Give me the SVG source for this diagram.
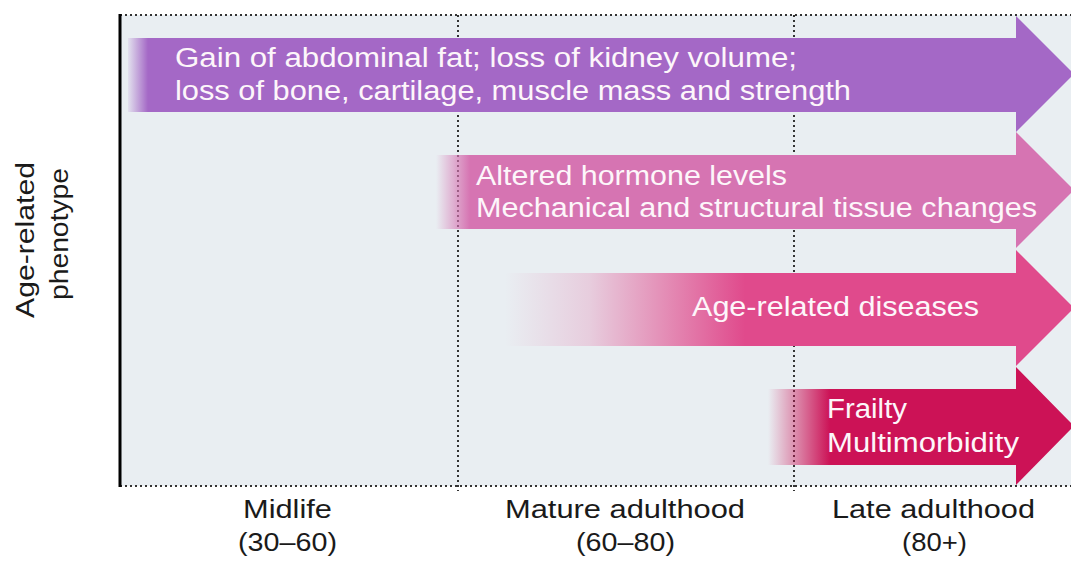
<svg xmlns="http://www.w3.org/2000/svg" width="1071" height="561" viewBox="0 0 1071 561">
<defs>
<style>
.lbl{font-family:"Liberation Sans",Arial,sans-serif;font-size:27px;fill:#fdf6fa}
.ax{font-family:"Liberation Sans",Arial,sans-serif;font-size:25px;fill:#1a1a1a;text-anchor:middle}
.dot{stroke:#333;stroke-width:2;stroke-dasharray:2 3;fill:none}
</style>
<linearGradient id="g1" gradientUnits="userSpaceOnUse" x1="128" y1="0" x2="148" y2="0">
<stop offset="0" stop-color="#a468c6" stop-opacity="0.1"/><stop offset="1" stop-color="#a468c6"/>
</linearGradient>
<linearGradient id="g2" gradientUnits="userSpaceOnUse" x1="436" y1="0" x2="470" y2="0">
<stop offset="0" stop-color="#d674b2" stop-opacity="0"/><stop offset="1" stop-color="#d674b2"/>
</linearGradient>
<linearGradient id="g3" gradientUnits="userSpaceOnUse" x1="505" y1="0" x2="745" y2="0">
<stop offset="0" stop-color="#e04a8c" stop-opacity="0"/><stop offset="0.35" stop-color="#e04a8c" stop-opacity="0.2"/><stop offset="1" stop-color="#e04a8c"/>
</linearGradient>
<linearGradient id="g4" gradientUnits="userSpaceOnUse" x1="768" y1="0" x2="830" y2="0">
<stop offset="0" stop-color="#cc1256" stop-opacity="0"/><stop offset="1" stop-color="#cc1256"/>
</linearGradient>
</defs>
<rect x="0" y="0" width="1071" height="561" fill="#ffffff"/>
<rect id="plot" x="120" y="15" width="951" height="471" fill="#e9eef2"/>
<g id="grid">
<line class="dot" x1="120" y1="15" x2="1071" y2="15"/>
<line class="dot" x1="120" y1="486" x2="1071" y2="486"/>
<line class="dot" x1="458" y1="15" x2="458" y2="491"/>
<line class="dot" x1="794" y1="15" x2="794" y2="491"/>
<line x1="120" y1="14" x2="120" y2="487" stroke="#000" stroke-width="3"/>
</g>
<g id="connectors">
<path id="a1" d="M128 38 H1016 V16 L1074 74 L1016 132 V112 H128 Z" fill="url(#g1)"/>
<path id="a2" d="M436 155 H1016 V132 L1074 190 L1016 248 V229 H436 Z" fill="url(#g2)"/>
<path id="a3" d="M505 273 H1016 V250 L1074 308 L1016 366 V346 H505 Z" fill="url(#g3)"/>
<path id="a4" d="M768 389 H1016 V367 L1074 426 L1016 485 V465 H768 Z" fill="url(#g4)"/>
</g>
<g id="n1"><text class="lbl" x="175" y="67" textLength="622" lengthAdjust="spacingAndGlyphs">Gain of abdominal fat; loss of kidney volume;</text><text class="lbl" x="175" y="100" textLength="676" lengthAdjust="spacingAndGlyphs">loss of bone, cartilage, muscle mass and strength</text></g>
<g id="n2"><text class="lbl" x="476" y="185" textLength="311" lengthAdjust="spacingAndGlyphs">Altered hormone levels</text><text class="lbl" x="476" y="217" textLength="561" lengthAdjust="spacingAndGlyphs">Mechanical and structural tissue changes</text></g>
<g id="n3"><text class="lbl" x="692" y="316" textLength="287" lengthAdjust="spacingAndGlyphs">Age-related diseases</text></g>
<g id="n4"><text class="lbl" x="827" y="418" textLength="80" lengthAdjust="spacingAndGlyphs">Frailty</text><text class="lbl" x="827" y="452" textLength="192" lengthAdjust="spacingAndGlyphs">Multimorbidity</text></g>
<g id="xlabels">
<text class="ax" x="287.5" y="518" textLength="89" lengthAdjust="spacingAndGlyphs">Midlife</text><text class="ax" x="287.5" y="551" textLength="99" lengthAdjust="spacingAndGlyphs">(30–60)</text>
<text class="ax" x="625" y="518" textLength="240" lengthAdjust="spacingAndGlyphs">Mature adulthood</text><text class="ax" x="625.5" y="551" textLength="99" lengthAdjust="spacingAndGlyphs">(60–80)</text>
<text class="ax" x="933.5" y="518" textLength="203" lengthAdjust="spacingAndGlyphs">Late adulthood</text><text class="ax" x="934.5" y="551" textLength="65" lengthAdjust="spacingAndGlyphs">(80+)</text>
</g>
<g id="ylabel">
<text class="ax" transform="translate(34 240) rotate(-90)" textLength="156" lengthAdjust="spacingAndGlyphs">Age-related</text>
<text class="ax" transform="translate(68 234) rotate(-90)" textLength="132" lengthAdjust="spacingAndGlyphs">phenotype</text>
</g>
</svg>
